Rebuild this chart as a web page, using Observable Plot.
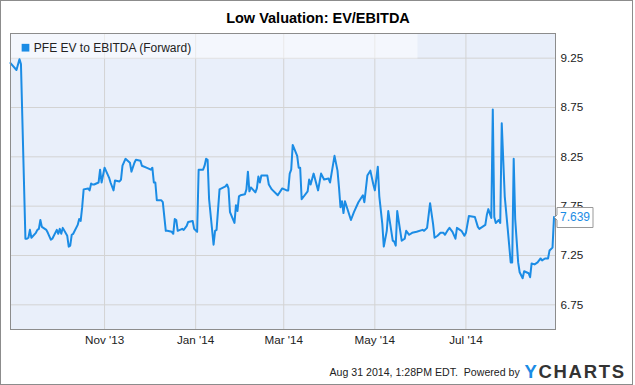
<!DOCTYPE html>
<html><head><meta charset="utf-8">
<script src="https://cdn.jsdelivr.net/npm/d3@7"></script>
<script src="https://cdn.jsdelivr.net/npm/@observablehq/plot@0.6"></script>
<style>
html,body{margin:0;padding:0;background:#fff;}
#wrap{position:relative;width:635px;height:385px;overflow:hidden;background:#fff;}
#border{position:absolute;left:0;top:0;width:633px;height:385px;box-sizing:border-box;border:1px solid #8c8c8c;pointer-events:none;}
#chart svg{display:block;}
g[aria-label="tip"] text{fill:#1b8ce5;}
</style></head><body>
<div id="wrap"><div id="chart"></div><div id="border"></div></div>
<script>
const title = "Low Valuation: EV/EBITDA";
const seriesName = "PFE EV to EBITDA (Forward)";
const footer = "Aug 31 2014, 1:28PM EDT.  Powered by";
const logoA = "Y";
const logoB = "CHARTS";
const xDomain = ["2013-08-30", "2014-08-30"];
const yDomain = [6.5, 9.5];
const xTicks = ["2013-11-01", "2014-01-01", "2014-03-01", "2014-05-01", "2014-07-01"];
const yTicks = [6.75, 7.25, 7.75, 8.25, 8.75, 9.25];

const dates = [
"2013-08-30","2013-09-03","2013-09-05","2013-09-06","2013-09-09","2013-09-10","2013-09-11","2013-09-12","2013-09-13","2013-09-16","2013-09-17","2013-09-18","2013-09-19","2013-09-20","2013-09-23","2013-09-24","2013-09-26","2013-09-27","2013-09-30",
"2013-10-01","2013-10-02","2013-10-03","2013-10-04","2013-10-07","2013-10-08","2013-10-09","2013-10-10","2013-10-11","2013-10-14","2013-10-15","2013-10-16","2013-10-17","2013-10-18","2013-10-21","2013-10-22","2013-10-23","2013-10-24","2013-10-25","2013-10-28","2013-10-29","2013-10-30",
"2013-11-01","2013-11-04","2013-11-05","2013-11-07","2013-11-08","2013-11-11","2013-11-12","2013-11-13","2013-11-15","2013-11-18","2013-11-19","2013-11-21","2013-11-22","2013-11-25","2013-11-26","2013-11-29",
"2013-12-02","2013-12-03","2013-12-04","2013-12-05","2013-12-06","2013-12-09","2013-12-10","2013-12-12","2013-12-13","2013-12-16","2013-12-17","2013-12-18","2013-12-19","2013-12-20","2013-12-23","2013-12-24","2013-12-26","2013-12-27","2013-12-30","2013-12-31",
"2014-01-02","2014-01-03","2014-01-06","2014-01-07","2014-01-08","2014-01-09","2014-01-10","2014-01-13","2014-01-14","2014-01-15","2014-01-17","2014-01-21","2014-01-22","2014-01-23","2014-01-24","2014-01-27","2014-01-28","2014-01-29","2014-01-30","2014-01-31",
"2014-02-03","2014-02-04","2014-02-05","2014-02-06","2014-02-07","2014-02-10","2014-02-11","2014-02-12","2014-02-13","2014-02-14","2014-02-18","2014-02-19","2014-02-21","2014-02-25","2014-02-28",
"2014-03-03","2014-03-04","2014-03-05","2014-03-06","2014-03-07","2014-03-10","2014-03-11","2014-03-12","2014-03-13","2014-03-17","2014-03-18","2014-03-19","2014-03-21","2014-03-24","2014-03-26","2014-03-28","2014-03-31",
"2014-04-01","2014-04-02","2014-04-04","2014-04-06","2014-04-07","2014-04-08","2014-04-09","2014-04-10","2014-04-11","2014-04-15","2014-04-17","2014-04-20","2014-04-23","2014-04-24","2014-04-26","2014-04-28","2014-04-30",
"2014-05-01","2014-05-03","2014-05-04","2014-05-06","2014-05-07","2014-05-09","2014-05-10","2014-05-12","2014-05-13","2014-05-14","2014-05-15","2014-05-16","2014-05-18","2014-05-19","2014-05-21","2014-05-22","2014-05-24","2014-05-26","2014-05-29",
"2014-06-02","2014-06-03","2014-06-05","2014-06-07","2014-06-09","2014-06-10","2014-06-12","2014-06-14","2014-06-16","2014-06-17","2014-06-19","2014-06-20","2014-06-22","2014-06-24","2014-06-25","2014-06-28","2014-06-30",
"2014-07-01","2014-07-03","2014-07-07","2014-07-09","2014-07-10","2014-07-12","2014-07-14","2014-07-15","2014-07-16","2014-07-18","2014-07-19","2014-07-20","2014-07-21","2014-07-23","2014-07-24","2014-07-25","2014-07-27","2014-07-29","2014-07-31",
"2014-08-01","2014-08-02","2014-08-03","2014-08-05","2014-08-06","2014-08-08","2014-08-09","2014-08-12","2014-08-13","2014-08-14","2014-08-16","2014-08-18","2014-08-20","2014-08-21","2014-08-23","2014-08-25","2014-08-26","2014-08-28","2014-08-29"
];
const values = [
9.20,9.13,9.24,9.19,7.42,7.42,7.43,7.51,7.43,7.48,7.51,7.52,7.61,7.54,7.51,7.48,7.41,7.42,7.51,
7.47,7.52,7.47,7.53,7.45,7.34,7.35,7.46,7.47,7.56,7.62,7.60,7.74,7.92,7.93,7.91,7.98,7.97,7.97,7.99,8.12,7.99,
8.14,8.04,7.99,7.91,8.01,8.00,8.02,8.16,8.23,8.19,8.10,8.19,8.22,8.21,8.16,8.14,
8.12,8.14,7.99,7.99,7.81,7.81,7.79,7.50,7.50,7.49,7.47,7.62,7.61,7.50,7.52,7.51,7.55,7.59,7.60,7.52,
7.49,8.12,8.12,8.16,8.23,8.22,7.82,7.36,7.50,7.51,7.92,7.95,7.97,7.93,7.69,7.58,7.76,7.70,7.85,7.86,
7.87,7.92,8.10,7.90,7.94,7.89,7.93,8.05,7.99,8.06,8.06,7.97,7.92,7.86,7.93,
7.91,7.91,8.08,8.12,8.37,8.26,8.14,8.14,7.82,7.90,8.02,7.97,8.08,7.91,8.08,8.02,8.03,
7.99,8.08,8.26,8.11,7.94,7.74,7.80,7.68,7.80,7.61,7.69,7.79,7.86,7.79,8.06,8.11,7.97,
7.91,8.15,7.85,7.57,7.34,7.50,7.70,7.50,7.40,7.39,7.35,7.70,7.50,7.40,7.42,7.50,7.46,7.48,7.49,
7.51,7.50,7.53,7.78,7.57,7.43,7.45,7.48,7.48,7.46,7.51,7.53,7.49,7.42,7.53,7.50,7.45,
7.48,7.65,7.64,7.54,7.52,7.54,7.56,7.66,7.72,7.63,8.73,7.64,7.58,7.61,7.58,8.59,7.85,7.52,7.18,
7.18,8.23,7.62,7.18,7.08,7.02,7.09,7.07,7.03,7.17,7.16,7.18,7.22,7.20,7.22,7.22,7.30,7.33,7.639
];

const data = dates.map((d, i) => ({date: new Date(d), value: values[i]}));
const last = data[data.length - 1];
const blue = "#1b8ce5";
const font = "Liberation Sans, Arial, sans-serif";

const plot = Plot.plot({
  width: 635, height: 385,
  marginLeft: 10, marginRight: 80, marginTop: 33, marginBottom: 56,
  style: {fontFamily: font, background: "transparent", color: "#222", overflow: "visible"},
  x: {type: "utc", domain: xDomain.map(d => new Date(d))},
  y: {domain: yDomain},
  marks: [
    Plot.frame({fill: "#e9effa"}),
    Plot.gridX(xTicks.map(d => new Date(d)), {stroke: "#d3d3d3", strokeOpacity: 1}),
    Plot.gridY(yTicks, {stroke: "#d3d3d3", strokeOpacity: 1}),
    Plot.frame({fill: "#ffffff", fillOpacity: 0.5, insetRight: 138, insetBottom: 271}),
    Plot.lineY(data, {x: "date", y: "value", stroke: blue, strokeWidth: 2}),
    Plot.frame({stroke: "#8c8c8c"}),
    Plot.axisX(xTicks.map(d => new Date(d)), {tickSize: 0, tickPadding: 6, tickFormat: d3.utcFormat("%b '%y"), fontSize: 11.7, label: null}),
    Plot.axisY(yTicks, {anchor: "right", tickSize: 0, tickPadding: 5, tickFormat: d => d.toFixed(2), fontSize: 11.7, label: null}),
    Plot.dot([seriesName], {frameAnchor: "top-left", dx: 15, dy: 14.2, symbol: "square", r: 4.35, fill: blue, stroke: "none"}),
    Plot.text([seriesName], {text: d => d, frameAnchor: "top-left", dx: 23.3, dy: 18, textAnchor: "start", lineAnchor: "bottom", fontSize: 12, fill: "#222"}),
    Plot.text([title], {text: d => d, frameAnchor: "top", dx: 35, dy: -10.3, lineAnchor: "bottom", fontSize: 14.5, fontWeight: "bold", fill: "#000"}),
    Plot.text([footer], {text: d => d, frameAnchor: "bottom-left", dx: 319, dy: 46, textAnchor: "start", lineAnchor: "bottom", fontSize: 10.6, fill: "#222"}),
    Plot.text([logoA], {text: d => d, frameAnchor: "bottom-left", dx: 514, dy: 48.3, textAnchor: "start", lineAnchor: "bottom", fontSize: 18.5, fontWeight: "bold", fill: blue}),
    Plot.text([logoB], {text: d => d, frameAnchor: "bottom-left", dx: 528, dy: 48.3, textAnchor: "start", lineAnchor: "bottom", fontSize: 18.5, fontWeight: "bold", fill: "#333"}),
    Plot.tip([last], {x: "date", y: "value", title: d => d.value.toFixed(3), anchor: "left", pointerSize: 5, textPadding: 3, fontSize: 12, fill: "white", stroke: "#999", pathFilter: "none"})
  ]
});
d3.select(plot).selectAll("text").filter(function() { return this.textContent === logoB; }).attr("letter-spacing", "1.7");
document.getElementById("chart").appendChild(plot);
</script>
</body></html>
